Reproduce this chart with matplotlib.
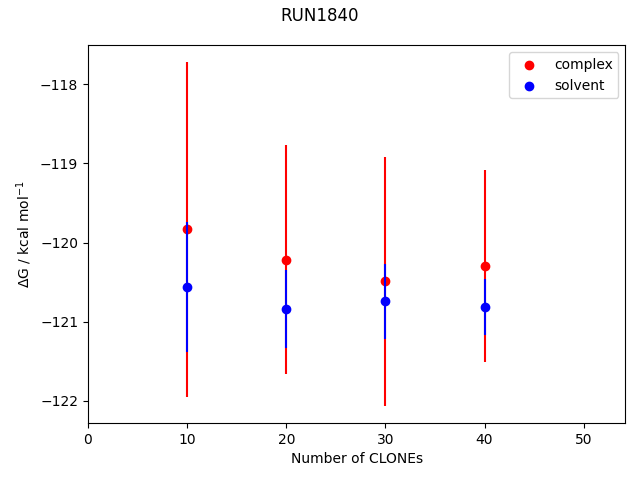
import matplotlib
matplotlib.use('Agg')
import matplotlib.pyplot as plt

clones = [10, 20, 30, 40]

complex_dg = [-119.835, -120.215, -120.49, -120.30]
complex_err = [2.11, 1.45, 1.57, 1.21]

solvent_dg = [-120.557, -120.84, -120.74, -120.81]
solvent_err = [0.82, 0.49, 0.475, 0.355]

fig = plt.figure()
ax = fig.add_subplot(111)

ax.errorbar(clones, complex_dg, yerr=complex_err, fmt='none', ecolor='red')
ax.scatter(clones, complex_dg, color='red', label='complex')
ax.errorbar(clones, solvent_dg, yerr=solvent_err, fmt='none', ecolor='blue')
ax.scatter(clones, solvent_dg, color='blue', label='solvent')

ax.set_xlim(0, 54.2)
ax.set_xlabel('Number of CLONEs')
ax.set_ylabel(r'$\Delta$G / kcal mol$^{-1}$')
ax.legend()
fig.suptitle('RUN1840', y=0.985)
fig.subplots_adjust(left=0.1375, right=0.977, top=0.906, bottom=0.119)
fig.savefig('out.png')
